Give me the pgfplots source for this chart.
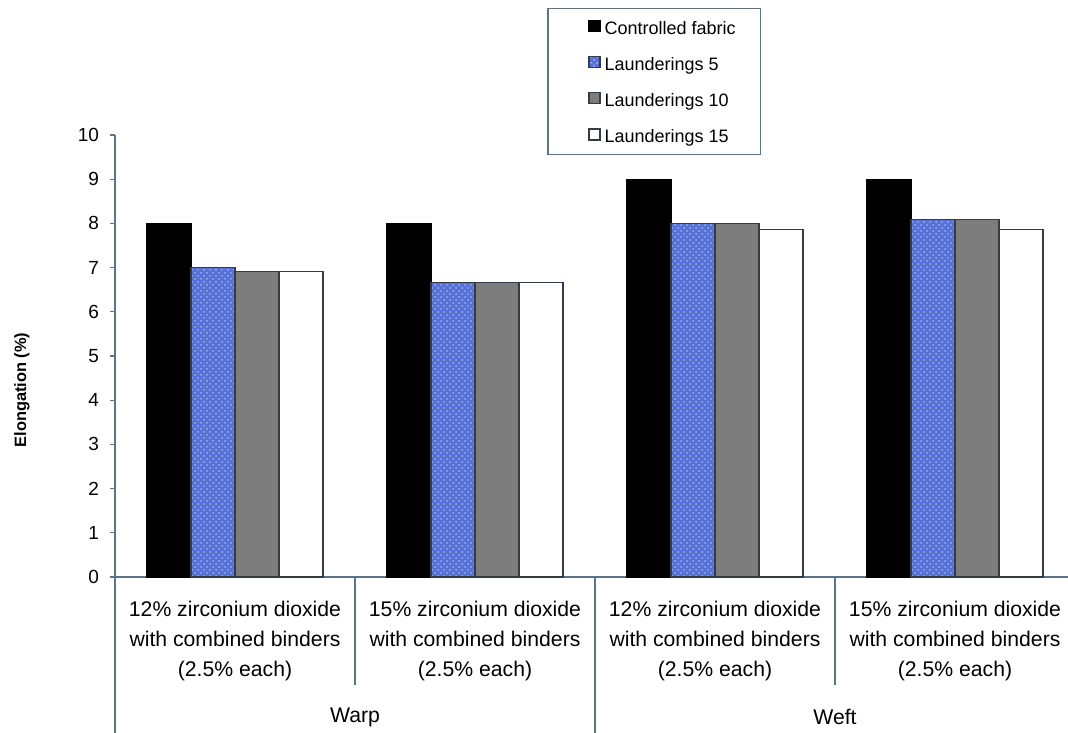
\documentclass[border=0pt]{standalone}
\usepackage{pgfplots}
\pgfplotsset{compat=1.18}
\usepackage{fontspec}
\setmainfont{Liberation Sans}
\usetikzlibrary{patterns}

\definecolor{axisline}{RGB}{95,115,135}
\definecolor{barline}{RGB}{50,60,70}
\definecolor{laundblue}{RGB}{85,115,215}
\definecolor{speckle}{RGB}{175,170,235}
\definecolor{midgray}{RGB}{125,125,125}

\begin{document}
\begin{tikzpicture}
\useasboundingbox (0,0) rectangle (534pt,366pt);
\begin{axis}[
  at={(57.5pt,77.5pt)}, anchor=south west,
  scale only axis, width=480pt, height=221pt,
  xmin=-0.5, xmax=3.5, ymin=0, ymax=10,
  clip=false,
  ybar=0pt, bar width=22pt,
  axis x line*=bottom, axis y line*=left,
  axis line style={draw=axisline, line width=0.6pt},
  tick align=outside, major tick length=2.5pt,
  ytick={0,1,2,3,4,5,6,7,8,9,10},
  ytick style={draw=axisline, line width=0.6pt},
  yticklabel style={font=\fontsize{9.5}{11}\selectfont, xshift=-2pt},
  /pgf/number format/assume math mode=true,
  xtick={0,1,2,3},
  xtick style={draw=none},
  xticklabels={
    {12\% zirconium dioxide\\with combined binders\\(2.5\% each)},
    {15\% zirconium dioxide\\with combined binders\\(2.5\% each)},
    {12\% zirconium dioxide\\with combined binders\\(2.5\% each)},
    {15\% zirconium dioxide\\with combined binders\\(2.5\% each)}},
  xticklabel style={align=center, font=\fontsize{10.6}{15}\selectfont, yshift=-6pt},
  ylabel={Elongation (\%)},
  ylabel style={font=\fontsize{8.2}{10}\selectfont\bfseries,
    at={(axis description cs:-0.097,0.423)}, anchor=center},
  legend image code/.code={\draw[#1] (0pt,-1pt) rectangle (5.5pt,4.5pt);},
  legend cell align=left,
  legend style={draw=none, fill=none, inner sep=0pt,
    at={(rel axis cs:0.4927,1.261)}, anchor=north west,
    font=\fontsize{9}{10}\selectfont,
    row sep=9pt, column sep=2pt,
    nodes={inner sep=0pt, text height=6.5pt, text depth=2pt}},
]
\addplot[fill=black, draw=black, line width=0.6pt]
  coordinates {(0,8) (1,8) (2,9) (3,9)};
\addplot[fill=laundblue, draw=barline, line width=0.6pt,
  postaction={pattern=crosshatch dots, pattern color=speckle}]
  coordinates {(0,7.0) (1,6.67) (2,8.0) (3,8.08)};
\addplot[fill=midgray, draw=barline, line width=0.6pt]
  coordinates {(0,6.92) (1,6.67) (2,8.0) (3,8.08)};
\addplot[fill=white, draw=barline, line width=0.6pt]
  coordinates {(0,6.92) (1,6.67) (2,7.87) (3,7.87)};
\legend{Controlled fabric, Launderings 5, Launderings 10, Launderings 15}

% legend frame
\draw[axisline, line width=0.6pt] (rel axis cs:0.451,1.287) rectangle (rel axis cs:0.672,0.955);

% category separators below the axis
\draw[axisline, line width=0.6pt] (axis cs:-0.5,0) -- ++(0pt,-80pt);
\draw[axisline, line width=0.6pt] (axis cs:0.5,0) -- ++(0pt,-54pt);
\draw[axisline, line width=0.6pt] (axis cs:1.5,0) -- ++(0pt,-80pt);
\draw[axisline, line width=0.6pt] (axis cs:2.5,0) -- ++(0pt,-54pt);

% outer grouping labels
\node[font=\fontsize{10.6}{12}\selectfont] at (axis cs:0.5,0) [yshift=-70pt] {Warp};
\node[font=\fontsize{10.6}{12}\selectfont] at (axis cs:2.5,0) [yshift=-70pt] {Weft};
\end{axis}
\end{tikzpicture}
\end{document}
